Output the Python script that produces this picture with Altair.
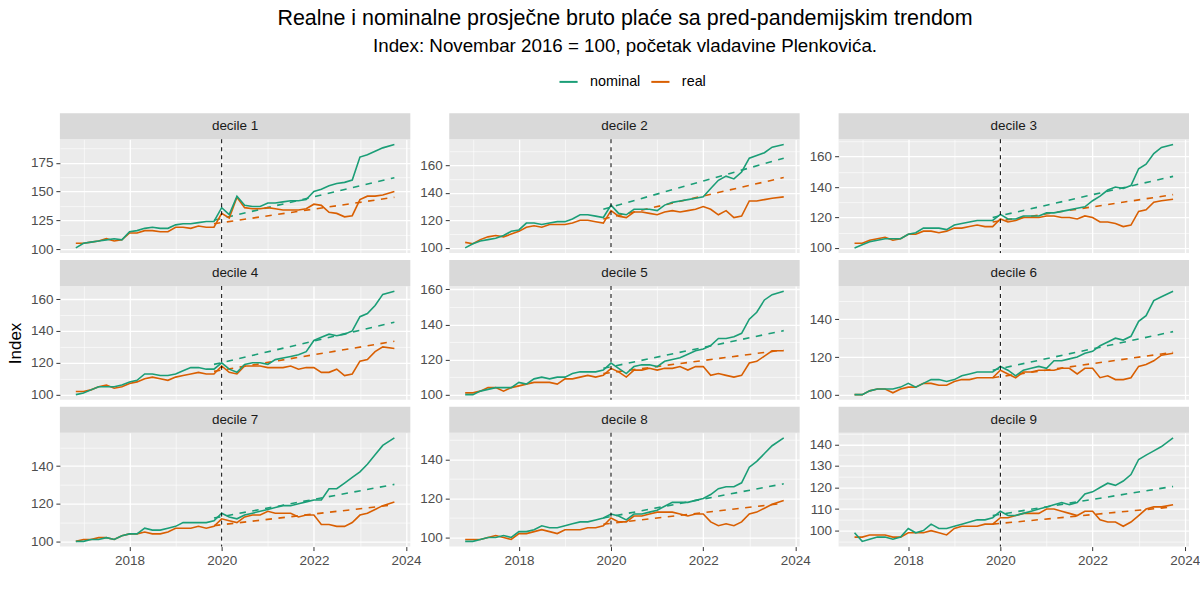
import math
import altair as alt
import pandas as pd

# ---------------- data ----------------
DATES = [
    "2016-11-01",
    "2017-01-01", "2017-03-01", "2017-05-01", "2017-07-01", "2017-09-01", "2017-11-01",
    "2018-01-01", "2018-03-01", "2018-05-01", "2018-07-01", "2018-09-01", "2018-11-01",
    "2019-01-01", "2019-03-01", "2019-05-01", "2019-07-01", "2019-09-01", "2019-11-01",
    "2020-01-01", "2020-03-01", "2020-05-01", "2020-07-01", "2020-09-01", "2020-11-01",
    "2021-01-01", "2021-03-01", "2021-05-01", "2021-07-01", "2021-09-01", "2021-11-01",
    "2022-01-01", "2022-03-01", "2022-05-01", "2022-07-01", "2022-09-01", "2022-11-01",
    "2023-01-01", "2023-03-01", "2023-05-01", "2023-07-01", "2023-10-01",
]
TREND_DATES = ["2019-11-01", "2023-10-01"]
VLINE_DATES = ["2020-01-01"]

DECILE_LABELS = ["decile 1", "decile 2", "decile 3", "decile 4", "decile 5",
                 "decile 6", "decile 7", "decile 8", "decile 9"]
SERIES = ["nominal", "real"]

NOM_D1 = [101, 105, 106, 107, 108, 109, 108, 115, 116, 118, 119, 118, 118, 121, 122, 122, 123, 124, 124,
          136, 130, 146, 138, 137, 137, 140, 140, 141, 142, 142, 143, 150, 152, 155, 157, 158, 160,
          180, 182, 185, 188, 191]
REAL_D1 = [105, 105, 106, 107, 109, 107, 108, 114, 114, 116, 116, 115, 115, 119, 119, 118, 120, 119, 119,
           131, 127, 145, 136, 135, 135, 136, 135, 134, 134, 134, 135, 139, 138, 132, 131, 128, 129,
           143, 146, 146, 147, 150]
NOM_D2 = [100, 103, 105, 106, 107, 109, 112, 113, 118, 118, 117, 118, 119, 119, 121, 124, 124, 123, 122,
          131, 125, 124, 128, 128, 128, 127, 131, 133, 134, 135, 136, 137, 143, 149, 152, 150, 155,
          165, 167, 169, 173, 175]
REAL_D2 = [104, 103, 106, 108, 109, 108, 110, 112, 115, 116, 115, 117, 117, 117, 118, 120, 120, 119, 118,
           127, 123, 122, 126, 126, 125, 124, 126, 127, 126, 127, 128, 130, 128, 124, 127, 122, 123,
           134, 134, 135, 136, 137]
NOM_D3 = [100, 102, 104, 105, 106, 106, 106, 109, 110, 113, 113, 113, 112, 115, 116, 117, 118, 118, 118,
          122, 119, 119, 121, 121, 121, 123, 123, 124, 125, 126, 127, 131, 134, 138, 140, 139, 141,
          152, 155, 162, 166, 168]
REAL_D3 = [103, 103, 105, 106, 107, 105, 106, 109, 109, 111, 111, 110, 111, 113, 113, 114, 115, 114, 114,
           119, 117, 118, 120, 120, 120, 121, 121, 120, 120, 119, 121, 120, 117, 117, 116, 114, 115,
           124, 125, 130, 131, 132]
NOM_D4 = [100, 101, 103, 105, 105, 105, 106, 108, 109, 113, 113, 112, 112, 113, 115, 117, 117, 116, 116,
          120, 116, 114, 119, 120, 120, 119, 122, 123, 124, 125, 127, 134, 136, 138, 137, 138, 140,
          149, 151, 156, 163, 165]
REAL_D4 = [102, 102, 103, 105, 106, 104, 105, 107, 108, 110, 111, 110, 109, 111, 112, 113, 114, 113, 113,
           118, 114, 113, 118, 118, 118, 117, 117, 117, 118, 116, 117, 117, 114, 114, 116, 112, 113,
           121, 122, 127, 130, 129]
NOM_D5 = [100, 100, 102, 103, 104, 104, 104, 107, 106, 109, 110, 109, 110, 110, 112, 113, 113, 113, 114,
          118, 115, 112, 116, 117, 117, 116, 119, 120, 121, 123, 125, 126, 128, 132, 132, 133, 135,
          143, 147, 154, 157, 159]
REAL_D5 = [101, 101, 102, 104, 104, 102, 104, 105, 106, 107, 107, 107, 106, 109, 109, 110, 111, 110, 111,
           115, 113, 110, 114, 114, 115, 114, 115, 115, 116, 114, 116, 116, 111, 112, 111, 110, 111,
           118, 119, 122, 125, 125]
NOM_D6 = [100, 100, 102, 103, 103, 103, 104, 106, 104, 106, 108, 108, 107, 108, 110, 111, 112, 112, 112,
          115, 113, 110, 113, 114, 115, 114, 118, 118, 119, 120, 122, 123, 126, 128, 130, 129, 131,
          139, 142, 150, 152, 155]
REAL_D6 = [100, 100, 102, 103, 103, 101, 103, 104, 104, 106, 106, 105, 105, 107, 108, 108, 109, 109, 109,
           113, 111, 109, 112, 112, 113, 113, 113, 114, 114, 111, 114, 114, 109, 110, 108, 108, 109,
           115, 116, 118, 121, 122]
NOM_D7 = [100, 100, 101, 101, 102, 101, 103, 104, 104, 107, 106, 106, 107, 108, 110, 110, 110, 110, 111,
          115, 113, 112, 114, 115, 116, 117, 118, 119, 119, 120, 121, 122, 122, 128, 128, 131, 134,
          137, 141, 146, 151, 155]
REAL_D7 = [100, 101, 101, 102, 102, 101, 103, 104, 104, 105, 104, 104, 105, 107, 107, 107, 108, 107, 108,
           112, 111, 110, 113, 114, 114, 116, 115, 115, 115, 113, 114, 114, 109, 109, 108, 108, 110,
           114, 115, 117, 119, 121]
NOM_D8 = [98, 98, 99, 100, 100, 101, 100, 103, 103, 104, 106, 105, 105, 106, 107, 108, 108, 109, 110,
          112, 111, 109, 112, 112, 113, 114, 116, 118, 118, 118, 119, 120, 122, 125, 126, 126, 128,
          136, 139, 143, 147, 151]
REAL_D8 = [99, 99, 99, 100, 101, 100, 99, 102, 102, 103, 104, 103, 102, 104, 104, 104, 105, 105, 106,
           110, 108, 108, 111, 111, 112, 113, 113, 113, 112, 111, 112, 112, 108, 106, 107, 106, 108,
           112, 113, 115, 117, 119]
NOM_D9 = [99, 95, 96, 97, 97, 96, 97, 101, 99, 100, 103, 101, 101, 102, 103, 104, 105, 105, 106,
          109, 107, 107, 108, 109, 110, 111, 112, 113, 112, 113, 117, 118, 120, 122, 121, 123, 126,
          133, 135, 137, 139, 143]
REAL_D9 = [97, 97, 98, 98, 98, 97, 97, 99, 99, 99, 100, 99, 98, 101, 102, 102, 102, 103, 103,
           106, 106, 107, 108, 108, 108, 110, 110, 109, 108, 107, 109, 109, 105, 104, 104, 102, 104,
           107, 110, 111, 111, 112]

# pre-pandemic trend, value at start and end of TREND_DATES, per decile
TREND_NOM = [[125, 162], [128, 165], [120, 147], [119, 145.5], [115, 136.5],
             [113, 133.5], [112.4, 130.3], [110, 127.5], [107, 120.5]]
TREND_REAL = [[122, 145], [121, 151], [117, 135], [114.6, 133.5], [112, 125.5],
              [109, 122.5], [108.4, 119.5], [106.8, 117.5], [103, 111]]

Y_STEPS = [25, 20, 20, 20, 20, 20, 20, 20, 10]

NOMINAL = [NOM_D1, NOM_D2, NOM_D3, NOM_D4, NOM_D5, NOM_D6, NOM_D7, NOM_D8, NOM_D9]
REAL = [REAL_D1, REAL_D2, REAL_D3, REAL_D4, REAL_D5, REAL_D6, REAL_D7, REAL_D8, REAL_D9]

GREEN = "#1B9E77"
ORANGE = "#D95F02"
FONT = "Liberation Sans"
W, H = 351, 114
STRIP = 26

rows = []
for i, lab in enumerate(DECILE_LABELS):
    for d, n, r in zip(DATES, NOMINAL[i], REAL[i]):
        rows.append({"decile": lab, "date": d, "series": "nominal", "value": n})
        rows.append({"decile": lab, "date": d, "series": "real", "value": r})
lines_df = pd.DataFrame(rows)

trows = []
for i, lab in enumerate(DECILE_LABELS):
    for d, n, r in zip(TREND_DATES, TREND_NOM[i], TREND_REAL[i]):
        trows.append({"decile": lab, "date": d, "series": "nominal", "value": n})
        trows.append({"decile": lab, "date": d, "series": "real", "value": r})
trend_df = pd.DataFrame(trows)

# x domain with ggplot-like 5% expansion
t0 = pd.Timestamp(DATES[0]); t1 = pd.Timestamp(DATES[-1])
span = (t1 - t0) * 0.05
x_dom = [int((t0 - span).timestamp() * 1000), int((t1 + span).timestamp() * 1000)]

color_enc = alt.Color(
    "series:N",
    scale=alt.Scale(domain=SERIES, range=[GREEN, ORANGE]),
    legend=alt.Legend(
        orient="none", legendX=499, legendY=-68, direction="horizontal", title=None,
        symbolType="stroke", symbolSize=330, symbolStrokeWidth=2,
        labelFontSize=14.4, labelColor="black", labelFont=FONT,
        labelOffset=11, columnPadding=6,
    ),
)

major_x = "utcyear(datum.value) % 2 === 0"


def x_enc(bottom):
    return alt.X(
        "date:T",
        scale=alt.Scale(type="utc", domain=x_dom, nice=False),
        axis=alt.Axis(
            values=[alt.DateTime(year=y, month=1, date=1, utc=True) for y in range(2017, 2025)],
            title=None, domain=False, grid=True, gridColor="white",
            gridWidth={"condition": {"test": major_x, "value": 1.3}, "value": 0.6},
            labels=bottom, ticks=bottom,
            tickOpacity={"condition": {"test": major_x, "value": 1}, "value": 0},
            labelExpr="utcyear(datum.value) % 2 === 0 ? utcFormat(datum.value, '%Y') : ''",
            labelFontSize=13.5, labelColor="#4D4D4D", labelPadding=3,
            tickColor="#333333", tickSize=4, labelFont=FONT,
        ),
    )


def panel(i):
    lab = DECILE_LABELS[i]
    sub = lines_df[lines_df.decile == lab]
    tsub = trend_df[trend_df.decile == lab]
    lo = min(sub.value.min(), tsub.value.min())
    hi = max(sub.value.max(), tsub.value.max())
    pad = 0.05 * (hi - lo)
    dom = [lo - pad, hi + pad]
    step = Y_STEPS[i]
    half = step / 2
    yvals = [k * half for k in range(math.ceil(dom[0] / half), math.floor(dom[1] / half) + 1)]
    test = f"abs(datum.value % {step}) < 0.001"
    bottom = i >= 6
    axis_kw = dict(
        values=yvals, domain=False, grid=True, gridColor="white",
        gridWidth={"condition": {"test": test, "value": 1.3}, "value": 0.6},
        tickOpacity={"condition": {"test": test, "value": 1}, "value": 0},
        labelExpr=f"abs(datum.value % {step}) < 0.001 ? datum.label : ''",
        labelFontSize=13.5, labelColor="#4D4D4D", labelPadding=3,
        tickColor="#333333", tickSize=4, labelFont=FONT,
    )
    if i == 3:
        axis_kw.update(title="Index", titleFontSize=17, titleFontWeight="normal",
                       titleColor="black", titlePadding=6, titleFont=FONT)
    else:
        axis_kw.update(title=None)
    y = alt.Y("value:Q", scale=alt.Scale(domain=dom, nice=False, zero=False),
              axis=alt.Axis(**axis_kw))

    strip_df = pd.DataFrame({"label": [lab]})
    strip_rect = alt.Chart(strip_df).mark_rect(color="#D9D9D9").encode(
        x=alt.value(0), x2=alt.value(W), y=alt.value(-STRIP), y2=alt.value(0))
    strip_text = alt.Chart(strip_df).mark_text(
        font=FONT, fontSize=13.5, color="#1A1A1A", baseline="middle", align="center"
    ).encode(x=alt.value(W / 2), y=alt.value(-STRIP / 2), text="label:N")

    trend = alt.Chart(tsub).mark_line(strokeWidth=1.6, strokeDash=[6.5, 6.5], clip=True).encode(
        x=x_enc(bottom), y=y, color=color_enc, detail="series:N")
    real = alt.Chart(sub[sub.series == "real"]).mark_line(strokeWidth=1.6, clip=True).encode(
        x=x_enc(bottom), y=y, color=color_enc)
    nom = alt.Chart(sub[sub.series == "nominal"]).mark_line(strokeWidth=1.6, clip=True).encode(
        x=x_enc(bottom), y=y, color=color_enc)
    vline = alt.Chart(pd.DataFrame({"date": VLINE_DATES})).mark_rule(
        color="black", strokeWidth=1, strokeDash=[4, 4]).encode(x=x_enc(bottom))

    return alt.layer(strip_rect, strip_text, trend, real, nom, vline).properties(width=W, height=H)


panels = [panel(i) for i in range(9)]

chart = alt.concat(
    *panels, columns=3, spacing={"row": 33, "column": 39}, bounds="flush",
).properties(
    title=alt.TitleParams(
        "Realne i nominalne prosječne bruto plaće sa pred-pandemijskim trendom",
        subtitle="Index: Novembar 2016 = 100, početak vladavine Plenkovića.",
        anchor="middle", font=FONT, subtitleFont=FONT,
        fontSize=21.5, subtitleFontSize=18.8, fontWeight="normal",
        color="black", subtitleColor="black", subtitlePadding=7, offset=16,
        dx=22,
    ),
    padding={"left": 6, "top": 7, "right": 0, "bottom": 5},
).configure(font=FONT).configure_view(fill="#EBEBEB", stroke=None)

chart.save("out.html", embed_options={"renderer": "svg", "actions": False})
